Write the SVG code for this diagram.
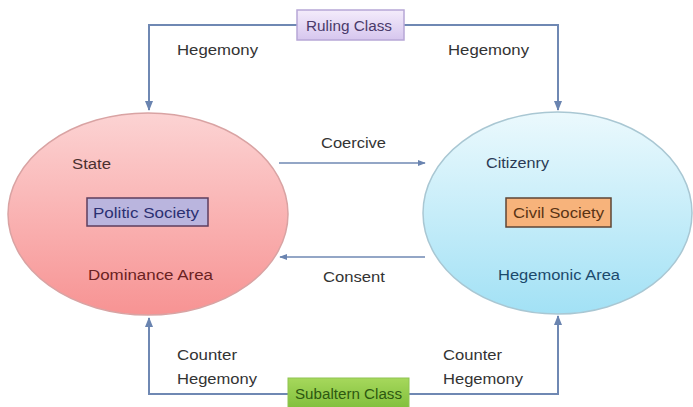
<svg xmlns="http://www.w3.org/2000/svg" width="693" height="407" viewBox="0 0 693 407">
<defs>
<linearGradient id="gPink" x1="0" y1="0" x2="0" y2="1">
<stop offset="0" stop-color="#fcd3d3"/><stop offset="1" stop-color="#f79393"/>
</linearGradient>
<linearGradient id="gBlue" x1="0" y1="0" x2="0" y2="1">
<stop offset="0" stop-color="#ebf9fd"/><stop offset="1" stop-color="#a2e1f5"/>
</linearGradient>
<linearGradient id="gRuling" x1="0" y1="0" x2="0" y2="1">
<stop offset="0" stop-color="#f4ecfb"/><stop offset="1" stop-color="#d6c6ee"/>
</linearGradient>
<linearGradient id="gSub" x1="0" y1="0" x2="0" y2="1">
<stop offset="0" stop-color="#a6d85c"/><stop offset="1" stop-color="#7cbc38"/>
</linearGradient>
<marker id="arr" viewBox="0 0 10 10" refX="9" refY="5" markerWidth="5" markerHeight="5" orient="auto" markerUnits="strokeWidth">
<path d="M0,1 L10,5 L0,9 z" fill="#6a84b0"/>
</marker>
<style>
text{font-family:"Liberation Sans",Arial,sans-serif;font-size:14px;}
.lbl{fill:#333;}
.conn{fill:none;stroke:#6f88b3;stroke-width:2;}
.thin{fill:none;stroke:#6f88b3;stroke-width:1.6;}
</style>
</defs>

<g id="connectors">
<polyline class="conn" points="297,25 149,25 149,110" marker-end="url(#arr)"/>
<polyline class="conn" points="404,25 558,25 558,110" marker-end="url(#arr)"/>
<polyline class="conn" points="288,394 149,394 149,318" marker-end="url(#arr)"/>
<polyline class="conn" points="408,394 558,394 558,316" marker-end="url(#arr)"/>
<line class="thin" x1="279" y1="163" x2="425" y2="163" marker-end="url(#arr)"/>
<line class="thin" x1="425" y1="257" x2="280" y2="257" marker-end="url(#arr)"/>
<text class="lbl" x="177" y="55" textLength="81" lengthAdjust="spacingAndGlyphs">Hegemony</text>
<text class="lbl" x="448" y="55" textLength="81" lengthAdjust="spacingAndGlyphs">Hegemony</text>
<text class="lbl" x="321" y="148" textLength="65" lengthAdjust="spacingAndGlyphs">Coercive</text>
<text class="lbl" x="323" y="282" textLength="62" lengthAdjust="spacingAndGlyphs">Consent</text>
<text class="lbl" x="177" y="360" textLength="60" lengthAdjust="spacingAndGlyphs">Counter</text>
<text class="lbl" x="177" y="384" textLength="80" lengthAdjust="spacingAndGlyphs">Hegemony</text>
<text class="lbl" x="443" y="360" textLength="59" lengthAdjust="spacingAndGlyphs">Counter</text>
<text class="lbl" x="443" y="384" textLength="80" lengthAdjust="spacingAndGlyphs">Hegemony</text>
</g>

<g id="political">
<ellipse cx="148" cy="214" rx="140" ry="101" fill="url(#gPink)" stroke="#d9a3a3" stroke-width="1.5"/>
<text x="72" y="169" fill="#4a3030" textLength="39" lengthAdjust="spacingAndGlyphs">State</text>
<rect x="87" y="198" width="121" height="28" fill="#bab5de" stroke="#5e3e5e" stroke-width="1.5"/>
<text x="93" y="218" fill="#2b3072" textLength="106" lengthAdjust="spacingAndGlyphs">Politic Society</text>
<text x="88" y="280" fill="#6a2222" textLength="125" lengthAdjust="spacingAndGlyphs">Dominance Area</text>
</g>

<g id="civil">
<ellipse cx="557.5" cy="213" rx="134.5" ry="101" fill="url(#gBlue)" stroke="#a9c7d3" stroke-width="1.5"/>
<text x="486" y="168" fill="#2a3a55" textLength="63" lengthAdjust="spacingAndGlyphs">Citizenry</text>
<rect x="506" y="198" width="105" height="29" fill="#f7b37b" stroke="#5e4636" stroke-width="1.5"/>
<text x="513" y="218" fill="#5a3414" textLength="91" lengthAdjust="spacingAndGlyphs">Civil Society</text>
<text x="498" y="280" fill="#1c4a6c" textLength="122" lengthAdjust="spacingAndGlyphs">Hegemonic Area</text>
</g>

<g id="ruling">
<rect x="297" y="10" width="107" height="30" fill="url(#gRuling)" stroke="#b7a7d6" stroke-width="1.5"/>
<text x="306" y="31" fill="#4a3a6a" textLength="86" lengthAdjust="spacingAndGlyphs">Ruling Class</text>
</g>

<g id="subaltern">
<rect x="288" y="378" width="121" height="34" fill="url(#gSub)" stroke="#8fc452" stroke-width="1"/>
<text x="295" y="399" fill="#2d5810" textLength="107" lengthAdjust="spacingAndGlyphs">Subaltern Class</text>
</g>
</svg>
